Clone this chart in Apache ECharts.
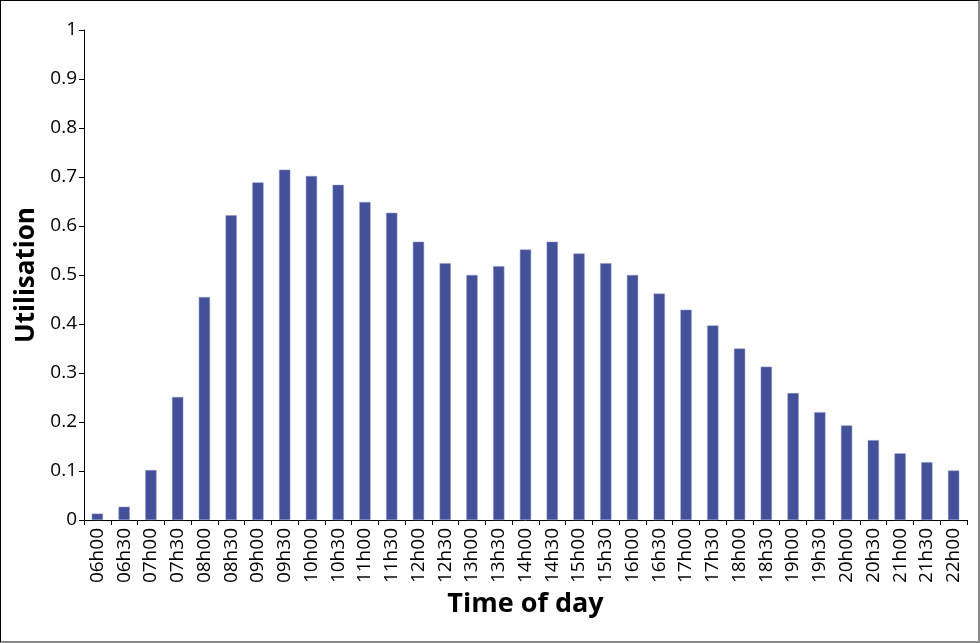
<html>

<head>
    <meta charset='utf-8' />
    <script src="https://cdn.jsdelivr.net/npm/echarts@6/dist/echarts.min.js"></script>
    <title>Utilisation by time of day</title>
    <style>
        html, body {
            margin: 0;
            padding: 0;
            overflow: hidden;
            background: #fff;
        }

        #chart {
            width: 980px;
            height: 643px;
            box-sizing: border-box;
            border-top: 1px solid #000;
            border-left: 1px solid #000;
            border-right: 2px solid #888;
            border-bottom: 2px solid #888;
        }
    </style>
</head>

<body>
    <div id="chart"></div>
    <script type="text/javascript">
        var times = ['06h00', '06h30', '07h00', '07h30', '08h00', '08h30', '09h00', '09h30', '10h00', '10h30',
            '11h00', '11h30', '12h00', '12h30', '13h00', '13h30', '14h00', '14h30', '15h00', '15h30',
            '16h00', '16h30', '17h00', '17h30', '18h00', '18h30', '19h00', '19h30', '20h00', '20h30',
            '21h00', '21h30', '22h00'];
        var utilisation = [0.013, 0.027, 0.102, 0.251, 0.455, 0.622, 0.689, 0.715, 0.702, 0.684,
            0.649, 0.627, 0.568, 0.524, 0.500, 0.518, 0.552, 0.568, 0.544, 0.524,
            0.500, 0.462, 0.429, 0.397, 0.350, 0.313, 0.259, 0.220, 0.193, 0.163,
            0.136, 0.118, 0.101];

        var font = 'Open Sans';
        var chart = echarts.init(document.getElementById('chart'));

        var option = {
            animation: false,
            grid: {
                left: 83,
                right: 11,
                top: 29,
                bottom: 121,
                outerBoundsMode: 'none'
            },
            xAxis: {
                type: 'category',
                data: times,
                name: 'Time of day',
                nameLocation: 'middle',
                nameGap: 71,
                nameTextStyle: {
                    fontFamily: font,
                    fontWeight: 'bold',
                    fontSize: 27,
                    color: '#000'
                },
                axisLine: { lineStyle: { color: '#000', width: 1 } },
                axisTick: {
                    show: true,
                    alignWithLabel: false,
                    length: 5,
                    lineStyle: { color: '#000' }
                },
                axisLabel: {
                    rotate: 90,
                    interval: 0,
                    margin: 8,
                    fontFamily: font,
                    fontSize: 19,
                    color: '#000'
                }
            },
            yAxis: {
                type: 'value',
                min: 0,
                max: 1,
                interval: 0.1,
                name: 'Utilisation',
                nameLocation: 'middle',
                nameGap: 43,
                nameTextStyle: {
                    fontFamily: font,
                    fontWeight: 'bold',
                    fontSize: 26,
                    color: '#000'
                },
                axisLine: { show: true, lineStyle: { color: '#000', width: 1 } },
                axisTick: { show: true, length: 5, lineStyle: { color: '#000' } },
                splitLine: { show: false },
                axisLabel: {
                    margin: 7,
                    fontFamily: font,
                    fontSize: 19,
                    color: '#000',
                    formatter: function (v) {
                        return parseFloat(v.toFixed(1)).toString();
                    }
                }
            },
            series: [
                {
                    type: 'bar',
                    data: utilisation,
                    barWidth: '42%',
                    itemStyle: {
                        color: '#42519a',
                        borderColor: '#8f97c6',
                        borderWidth: 0.5
                    }
                }
            ]
        };

        chart.setOption(option);
    </script>
</body>

</html>
